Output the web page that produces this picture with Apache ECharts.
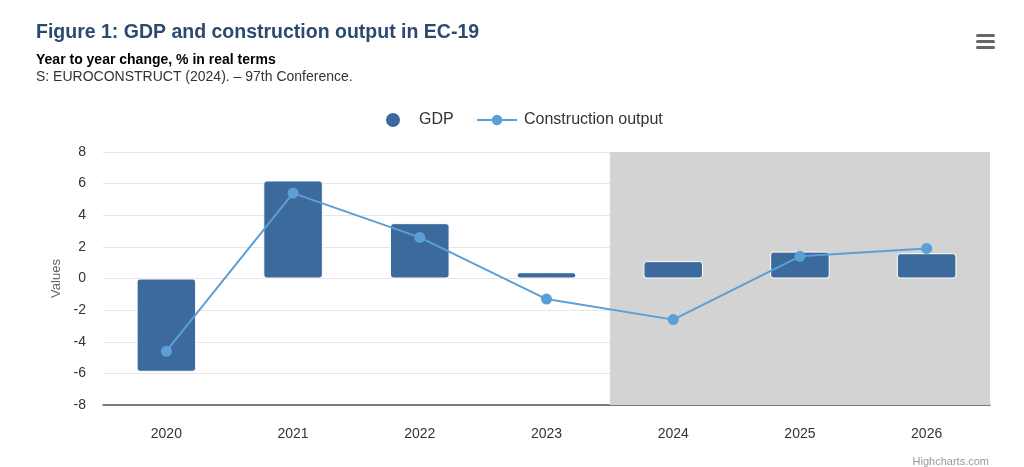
<!DOCTYPE html>
<html>
<head>
<meta charset="utf-8">
<script src="https://cdn.jsdelivr.net/npm/echarts@6/dist/echarts.min.js"></script>
<style>
html,body{margin:0;padding:0;background:#fff;}
#chart{width:1024px;height:467px;}
</style>
</head>
<body>
<div id="chart"></div>
<script>
const categories = ['2020', '2021', '2022', '2023', '2024', '2025', '2026'];
const gdp = [-5.9, 6.2, 3.5, 0.4, 1.1, 1.7, 1.6];
const construction = [-4.6, 5.4, 2.6, -1.3, -2.6, 1.4, 1.9];
const forecastStart = 3.5; // between 2023 and 2024
const forecastEnd = 6.5;

const chart = echarts.init(document.getElementById('chart'));
const font = '"Liberation Sans", Arial, sans-serif';
const legendText = { fontFamily: font, fontSize: 16, color: '#333' };
chart.setOption({
  animation: false,
  textStyle: { fontFamily: font },
  title: [
    { text: 'Figure 1: GDP and construction output in EC-19', left: 31, top: 18,
      textStyle: { fontFamily: font, fontSize: 19.5, fontWeight: 'bold', color: '#2b4a6e' } },
    { text: 'Year to year change, % in real terms', left: 31, top: 48,
      textStyle: { fontFamily: font, fontSize: 14, fontWeight: 'bold', color: '#000' } },
    { text: 'S: EUROCONSTRUCT (2024). – 97th Conference.', left: 31, top: 65,
      textStyle: { fontFamily: font, fontSize: 14, fontWeight: 'normal', color: '#333' } }
  ],
  legend: [
    { left: 384, top: 111, itemWidth: 16, itemHeight: 16, itemGap: 0, padding: 0,
      textStyle: Object.assign({ padding: [0, 0, 0, 13] }, legendText),
      data: [{ name: 'GDP', icon: 'circle' }] },
    { left: 476, top: 112, itemWidth: 40, itemHeight: 13, padding: 0,
      textStyle: Object.assign({ padding: [0, 0, 0, 2] }, legendText),
      data: [{ name: 'Construction output' }] }
  ],
  grid: { left: 103, right: 34, top: 152, bottom: 62 },
  xAxis: [
    { type: 'category', data: categories,
      axisLine: { onZero: false, lineStyle: { color: '#555', width: 1.5 } },
      axisTick: { show: false },
      axisLabel: { fontSize: 14, color: '#333', margin: 22, fontFamily: font } },
    { type: 'value', min: -0.5, max: 6.5, show: false }
  ],
  yAxis: {
    type: 'value', min: -8, max: 8, interval: 2,
    name: 'Values', nameLocation: 'middle', nameGap: 32, nameRotate: 90,
    nameTextStyle: { color: '#666', fontSize: 13, fontFamily: font },
    axisLabel: { fontSize: 14, color: '#333', margin: 17, fontFamily: font },
    splitLine: { lineStyle: { color: '#e6e6e6', width: 1 } },
    axisLine: { show: false }, axisTick: { show: false }
  },
  series: [
    { type: 'line', xAxisIndex: 1, data: [], zlevel: -1, silent: true,
      markArea: { silent: true, itemStyle: { color: '#d3d3d3' },
        data: [[{ xAxis: forecastStart, yAxis: -8 }, { xAxis: forecastEnd, yAxis: 8 }]] } },
    { name: 'GDP', type: 'bar', data: gdp, barWidth: '47%', z: 2,
      itemStyle: { color: '#3c6a9d', borderColor: '#fff', borderWidth: 1, borderRadius: 3 } },
    { name: 'Construction output', type: 'line', data: construction, z: 3,
      symbol: 'circle', symbolSize: 11,
      lineStyle: { color: '#5b9fd6', width: 2 },
      itemStyle: { color: '#5b9fd6' } }
  ],
  graphic: [
    { type: 'rect', shape: { x: 976, y: 34, width: 19, height: 3, r: 1.5 }, style: { fill: '#666' } },
    { type: 'rect', shape: { x: 976, y: 40, width: 19, height: 3, r: 1.5 }, style: { fill: '#666' } },
    { type: 'rect', shape: { x: 976, y: 46, width: 19, height: 3, r: 1.5 }, style: { fill: '#666' } },
    { type: 'text', right: 35, bottom: 0, style: { text: 'Highcharts.com', fill: '#999', fontSize: 11, fontFamily: font } }
  ]
});
</script>
</body>
</html>
